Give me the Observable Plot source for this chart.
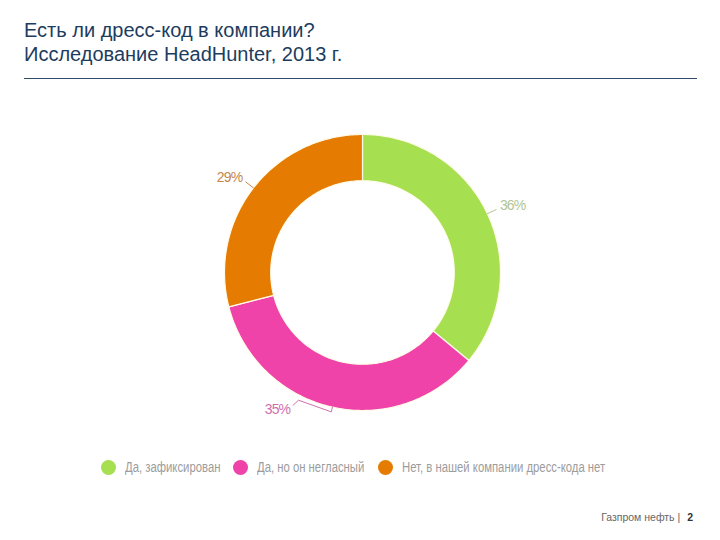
<!DOCTYPE html>
<html><head><meta charset="utf-8">
<script src="https://cdn.jsdelivr.net/npm/d3@7"></script>
<script src="https://cdn.jsdelivr.net/npm/@observablehq/plot@0.6"></script>
<style>
body{margin:0;background:#fff}
#page{position:relative;width:720px;height:540px;overflow:hidden;font-family:"Liberation Sans",Arial,sans-serif}
#title{position:absolute;left:24px;top:18px;color:#1d3c5e;font-size:20px;line-height:24px;white-space:nowrap}
#rule{position:absolute;left:24px;top:78px;width:673px;height:0;border-top:1.3px solid #2f4d6b}
#chart{position:absolute;left:0;top:90px}
#legend{position:absolute;top:458px;left:101px;display:flex;align-items:center;font-family:"Liberation Sans",Arial,sans-serif;font-size:15.5px;color:#9c9c9c;white-space:nowrap}
#legend .sw{width:15px;height:15px;border-radius:50%;margin-right:9px;flex:none}
#legend .it{display:flex;align-items:center;margin-right:13px}
#legend .tw{display:inline-block;overflow:visible}
#legend .tx{display:inline-block;transform-origin:0 50%}
#footer{position:absolute;top:511px;right:27px;font-size:10.5px;color:#666;white-space:nowrap}
#footer b{color:#333;margin-left:4px}
</style></head>
<body><div id="page">
<div id="title">Есть ли дресс-код в компании?<br>Исследование HeadHunter, 2013 г.</div>
<div id="rule"></div>
<div id="chart"></div>
<div id="legend"></div>
<div id="footer">Газпром нефть | <b>2</b></div>
</div>
<script>
const categories = ["Да, зафиксирован", "Да, но он негласный", "Нет, в нашей компании дресс-кода нет"];
const values = [36, 35, 29];
const labels = ["36%", "35%", "29%"];
const colors = ["#a6df50", "#ef43a9", "#e57b00"];
const labelColors = ["#b1c595", "#d06fab", "#c3884c"];

// layout (geometry, not data)
const W = 720, H = 350, R = 138, cx = 362, cy = 182, innerR = 0.665;
const total = d3.sum(values);
const rad = a => a * Math.PI / 180;
const pt = (a, r) => ({x: r * Math.sin(rad(a)), y: r * Math.cos(rad(a))});

let acc = 0;
const slices = values.map((v, i) => {
  const a0 = acc / total * 360; acc += v; const a1 = acc / total * 360;
  return {cat: categories[i], a0, a1, mid: (a0 + a1) / 2, i};
});

const ring = [];
for (const s of slices) {
  const n = Math.max(2, Math.ceil((s.a1 - s.a0) / 1));
  for (let k = 0; k <= n; k++) { const a = s.a0 + (s.a1 - s.a0) * k / n; ring.push({cat: s.cat, ...pt(a, 1)}); }
  for (let k = n; k >= 0; k--) { const a = s.a0 + (s.a1 - s.a0) * k / n; ring.push({cat: s.cat, ...pt(a, innerR)}); }
}

const marks = [
  Plot.line(ring, {x: "x", y: "y", z: "cat", fill: "cat", stroke: "#fffbe8", strokeWidth: 1.2, curve: "linear-closed"})
];
for (const s of slices) {
  const right = s.mid < 180;
  const bottom = s.mid > 150 && s.mid < 210;
  let leader, lab;
  if (bottom) {
    const a2 = s.mid + 14;
    leader = [pt(s.mid, 1.0), pt(s.mid, 1.035), pt(a2, 1.035), pt(a2 + 1, 1.085)];
    lab = {...pt(a2 + 1, 1.1), anchor: "end"};
  } else {
    leader = [pt(s.mid, 1.0), pt(s.mid, 1.07)];
    lab = {...pt(s.mid, 1.085), anchor: right ? "start" : "end"};
  }
  marks.push(Plot.line(leader, {x: "x", y: "y", stroke: labelColors[s.i], strokeWidth: 1}));
  marks.push(Plot.text([{...lab, t: labels[s.i]}], {x: "x", y: "y", text: "t", fill: labelColors[s.i],
    textAnchor: lab.anchor, dx: lab.anchor === "start" ? 2 : -2, dy: bottom ? 2 : -3, fontSize: 14,
    fontFamily: "'Liberation Sans',Arial,sans-serif"}));
}

const chart = Plot.plot({
  width: W, height: H, margin: 0,
  x: {domain: [-cx / R, (W - cx) / R], axis: null},
  y: {domain: [-(H - cy) / R, cy / R], axis: null},
  color: {domain: categories, range: colors},
  style: {background: "transparent"},
  marks
});
// condense label glyphs a bit
chart.querySelectorAll("text").forEach(t => t.setAttribute("letter-spacing", "-0.9"));
document.getElementById("chart").appendChild(chart);

const lg = document.getElementById("legend");
const k = 0.73;
categories.forEach((c, i) => {
  const it = document.createElement("div"); it.className = "it";
  it.innerHTML = `<div class="sw" style="background:${colors[i]}"></div><span class="tw"><span class="tx">${c}</span></span>`;
  lg.appendChild(it);
  const tx = it.querySelector(".tx"), tw = it.querySelector(".tw");
  const w = tx.getBoundingClientRect().width;
  tx.style.transform = `scaleX(${k})`;
  tw.style.width = (w * k) + "px";
});
</script>
</body></html>
